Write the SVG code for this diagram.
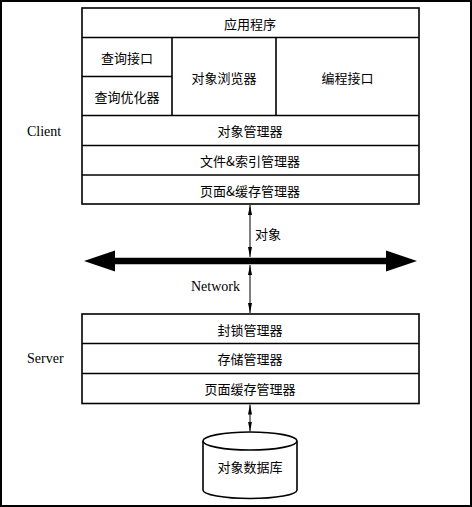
<svg xmlns="http://www.w3.org/2000/svg" width="472" height="507" viewBox="0 0 472 507">
<defs>
<style>
.box{fill:#fff;stroke:#000;stroke-width:1.6}
.ln{stroke:#000;stroke-width:1.6;fill:none}
.cj{font-family:"Noto Sans CJK SC","Liberation Serif",serif;font-size:13px;fill:#000;text-anchor:middle;dominant-baseline:central}
.lt{font-family:"Liberation Serif",serif;font-size:14px;fill:#000;dominant-baseline:central}
.conn{stroke:#000;stroke-width:1;fill:none}
</style>
<marker id="ah" viewBox="0 0 10 10" refX="10" refY="5" markerWidth="10" markerHeight="10" markerUnits="userSpaceOnUse" orient="auto-start-reverse">
<path d="M0,3 L10,5 L0,7 Z" fill="#000"/>
</marker>
</defs>
<rect x="1" y="1" width="470" height="505" fill="#fff" stroke="#000" stroke-width="2"/>
<g id="client">
<rect class="box" x="82" y="8" width="337" height="196"/>
<line class="ln" x1="82" y1="37.5" x2="419" y2="37.5"/>
<line class="ln" x1="82" y1="115.5" x2="419" y2="115.5"/>
<line class="ln" x1="82" y1="145.5" x2="419" y2="145.5"/>
<line class="ln" x1="82" y1="175" x2="419" y2="175"/>
<line class="ln" x1="82" y1="76.5" x2="172" y2="76.5"/>
<line class="ln" x1="172" y1="37.5" x2="172" y2="115.5"/>
<line class="ln" x1="276" y1="37.5" x2="276" y2="115.5"/>
</g>
<g id="app"><text class="cj" x="250" y="23">应用程序</text></g>
<g id="query-if"><text class="cj" x="127" y="57">查询接口</text></g>
<g id="query-opt"><text class="cj" x="127" y="96">查询优化器</text></g>
<g id="browser"><text class="cj" x="224" y="77">对象浏览器</text></g>
<g id="prog-if"><text class="cj" x="347.5" y="77">编程接口</text></g>
<g id="obj-mgr"><text class="cj" x="250" y="130.5">对象管理器</text></g>
<g id="file-mgr"><text class="cj" x="250" y="160.5">文件&amp;索引管理器</text></g>
<g id="page-mgr"><text class="cj" x="250" y="190">页面&amp;缓存管理器</text></g>
<g id="client-label"><text class="lt" x="27" y="131">Client</text></g>
<g id="server">
<rect class="box" x="82" y="314" width="337" height="89.5"/>
<line class="ln" x1="82" y1="343.5" x2="419" y2="343.5"/>
<line class="ln" x1="82" y1="373.5" x2="419" y2="373.5"/>
</g>
<g id="lock-mgr"><text class="cj" x="250" y="329">封锁管理器</text></g>
<g id="store-mgr"><text class="cj" x="250" y="358.5">存储管理器</text></g>
<g id="srv-page-mgr"><text class="cj" x="250" y="388.5">页面缓存管理器</text></g>
<g id="server-label"><text class="lt" x="27" y="358">Server</text></g>
<g id="db">
<path class="ln" d="M203,441 L203,490 A47,8.5 0 0 0 297,490 L297,441" fill="#fff"/>
<ellipse class="ln" cx="250" cy="441" rx="47" ry="9" fill="#fff"/>
<text class="cj" x="250" y="466">对象数据库</text>
</g>
<g id="network">
<path d="M84,261 L115,250.5 L115,257.7 L386,257.7 L386,250.5 L417,261 L386,271.5 L386,264.3 L115,264.3 L115,271.5 Z" fill="#000"/>
<text class="lt" x="240" y="286" style="text-anchor:end">Network</text>
</g>
<g id="connectors">
<line class="conn" x1="250" y1="205" x2="250" y2="257" marker-start="url(#ah)" marker-end="url(#ah)"/>
<line class="conn" x1="250" y1="265" x2="250" y2="313" marker-start="url(#ah)" marker-end="url(#ah)"/>
<line class="conn" x1="250" y1="404.5" x2="250" y2="431.5" marker-start="url(#ah)" marker-end="url(#ah)"/>
<text class="cj" x="255" y="233" style="text-anchor:start">对象</text>
</g>
</svg>
